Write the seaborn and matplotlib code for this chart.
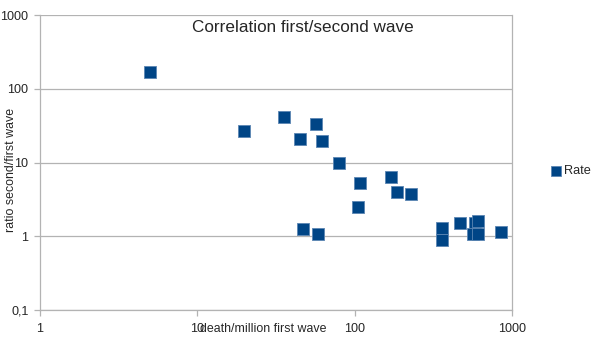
import matplotlib
matplotlib.use("Agg")
import matplotlib.pyplot as plt
import matplotlib.ticker as mticker
import seaborn as sns
import pandas as pd

# deaths per million in the first wave vs. ratio second/first wave
deaths_first_wave = [5.0, 20.0, 35.8, 56.7, 44.9, 61.9, 80.0, 108.9, 169.8, 185.3,
                     229.4, 105.7, 46.9, 58.9, 361.0, 358.0, 465.5, 582.0, 611.0,
                     568.0, 611.0, 855.0]
ratio_second_first = [170.0, 26.8, 41.4, 33.9, 20.8, 19.9, 9.85, 5.37, 6.36, 4.05,
                      3.77, 2.49, 1.24, 1.07, 1.30, 0.888, 1.54, 1.54, 1.59,
                      1.06, 1.09, 1.14]

y_ticks = [0.1, 1, 10, 100, 1000]
y_tick_labels = ["0,1", "1", "10", "100", "1000"]
x_ticks = [1, 10, 100, 1000]
x_tick_labels = ["1", "10", "100", "1000"]

df = pd.DataFrame({"deaths": deaths_first_wave, "ratio": ratio_second_first})

sns.set_style("white")
plt.rcParams["font.family"] = ["Liberation Sans", "DejaVu Sans"]

grid_col = "#b3b3b3"
fig = plt.figure(figsize=(6.05, 3.40), dpi=100)
ax = fig.add_axes([0.0653, 0.0882, 0.7810, 0.8668])

sns.scatterplot(data=df, x="deaths", y="ratio", marker="s", s=78,
                color="#004586", edgecolor="#5c86b3", linewidth=0.6,
                label="Rate", ax=ax, zorder=3)

ax.set_xscale("log")
ax.set_yscale("log")
ax.set_xlim(1, 1000)
ax.set_ylim(0.1, 1000)

ax.xaxis.set_major_locator(mticker.FixedLocator(x_ticks))
ax.xaxis.set_major_formatter(mticker.FixedFormatter(x_tick_labels))
ax.yaxis.set_major_locator(mticker.FixedLocator(y_ticks))
ax.yaxis.set_major_formatter(mticker.FixedFormatter(y_tick_labels))
ax.xaxis.set_minor_locator(mticker.NullLocator())
ax.yaxis.set_minor_locator(mticker.NullLocator())

ax.grid(axis="y", color=grid_col, linewidth=0.9)
ax.grid(axis="x", visible=False)
ax.tick_params(axis="both", which="major", direction="out", length=4,
               color=grid_col, width=0.9, labelsize=9.1,
               bottom=True, left=True)
ax.tick_params(axis="x", pad=5)
ax.tick_params(axis="y", pad=4)

for side in ["left", "bottom", "right"]:
    ax.spines[side].set_visible(True)
    ax.spines[side].set_color(grid_col)
    ax.spines[side].set_linewidth(0.9)
ax.spines["top"].set_visible(False)

ax.set_xlabel("death/million first wave", fontsize=8.9)
ax.set_ylabel("ratio second/first wave", fontsize=8.9)
ax.xaxis.set_label_coords(0.473, -0.043)
ax.yaxis.set_label_coords(-0.048, 0.475)

fig.text(0.5, 0.94, "Correlation first/second wave",
         ha="center", va="top", fontsize=12.3)

ax.legend(loc="center left", bbox_to_anchor=(1.082, 0.472), frameon=False,
          fontsize=9.2, handlelength=0.8, handletextpad=0.2,
          markerscale=0.8, borderaxespad=0, borderpad=0)

fig.savefig("out.png", dpi=100)
